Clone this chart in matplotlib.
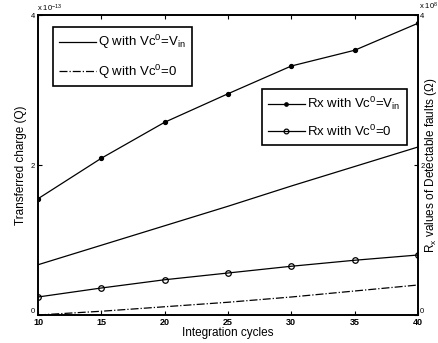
import numpy as np
import matplotlib.pyplot as plt

cycles = [10, 15, 20, 25, 30, 35, 40]
# transferred charge (x1e-13 C)
q_vin = [0.67, 0.93, 1.19, 1.45, 1.72, 1.98, 2.24]
q_zero = [0.0, 0.05, 0.11, 0.17, 0.24, 0.32, 0.40]
# Rx of detectable faults (x1e8 ohm)
rx_vin = [1.55, 2.09, 2.57, 2.95, 3.32, 3.53, 3.89]
rx_zero = [0.24, 0.36, 0.47, 0.56, 0.65, 0.73, 0.80]

plt.rcParams['font.family'] = ['Liberation Sans', 'DejaVu Sans']
plt.rcParams['mathtext.fontset'] = 'custom'
plt.rcParams['mathtext.rm'] = 'Liberation Sans'
plt.rcParams['mathtext.it'] = 'Liberation Sans'
plt.rcParams['font.size'] = 7

fig = plt.figure(figsize=(4.38, 3.43), dpi=100)
ax = fig.add_axes([38 / 438, 1 - 315 / 343, 380 / 438, 300 / 343])
ax2 = ax.twinx()

l1, = ax.plot(cycles, np.array(q_vin) * 1e-13, 'k-', lw=0.9)
l2, = ax.plot(cycles, np.array(q_zero) * 1e-13, 'k-.', lw=0.9)
r1, = ax2.plot(cycles, np.array(rx_vin) * 1e8, 'k-', lw=0.9, marker='o', ms=2.8)
r2, = ax2.plot(cycles, np.array(rx_zero) * 1e8, 'k-', lw=0.9, marker='o', ms=4,
               mfc='none', mew=0.9)

ax.set_xlim(10, 40)
ax.set_ylim(0, 4e-13)
ax2.set_ylim(0, 4e8)
ax.set_xticks(cycles)
ax.set_xticklabels([str(c) for c in cycles], fontweight='bold', fontsize=6.5)
ax.set_yticks([0, 2e-13, 4e-13])
ax.set_yticklabels(['0', '2', '4'], fontsize=5.5)
ax2.set_yticks([0, 2e8, 4e8])
ax2.set_yticklabels(['0', '2', '4'], fontsize=5.5)
# zero labels sit just above the x tick labels
ax.get_yticklabels()[0].set_va('bottom')
ax2.get_yticklabels()[0].set_va('bottom')
ax.tick_params(direction='in', top=True, length=3, width=0.8, pad=2)
ax2.tick_params(direction='in', length=3, width=0.8, pad=1.5)
for a in (ax, ax2):
    for s in a.spines.values():
        s.set_linewidth(1.2)

fig.text(37 / 438, 1 - 8 / 343, 'x 10$^{-13}$', fontsize=5.5, va='center')
fig.text(419 / 438, 1 - 6 / 343, 'x 10$^{8}$', fontsize=5.5, va='center')

ax.set_xlabel('Integration cycles', fontsize=8.5, labelpad=0)
ax.set_ylabel('Transferred charge (Q)', fontsize=8.5, labelpad=3)
ax2.set_ylabel('R$_x$ values of Detectable faults ($\\Omega$)', fontsize=8.5, labelpad=-1)

leg1 = ax.legend([l1, l2], ['Q with Vc$^0$=V$_{in}$', 'Q with Vc$^0$=0'],
                 loc='upper left', bbox_to_anchor=(0.039, 0.96), fontsize=9.5,
                 frameon=True, fancybox=False, edgecolor='k', framealpha=1,
                 handlelength=2.8, handletextpad=0.2, labelspacing=0.85,
                 borderpad=0.45, borderaxespad=0)
leg1.get_frame().set_linewidth(1.2)
leg2 = ax2.legend([r1, r2], ['Rx with Vc$^0$=V$_{in}$', 'Rx with Vc$^0$=0'],
                  loc='upper left', bbox_to_anchor=(0.589, 0.753), fontsize=9.5,
                  frameon=True, fancybox=False, edgecolor='k', framealpha=1,
                  handlelength=2.8, handletextpad=0.2, labelspacing=0.85,
                  borderpad=0.45, borderaxespad=0, markerscale=0.85)
leg2.get_frame().set_linewidth(1.2)

plt.savefig('out.png', dpi=100)
